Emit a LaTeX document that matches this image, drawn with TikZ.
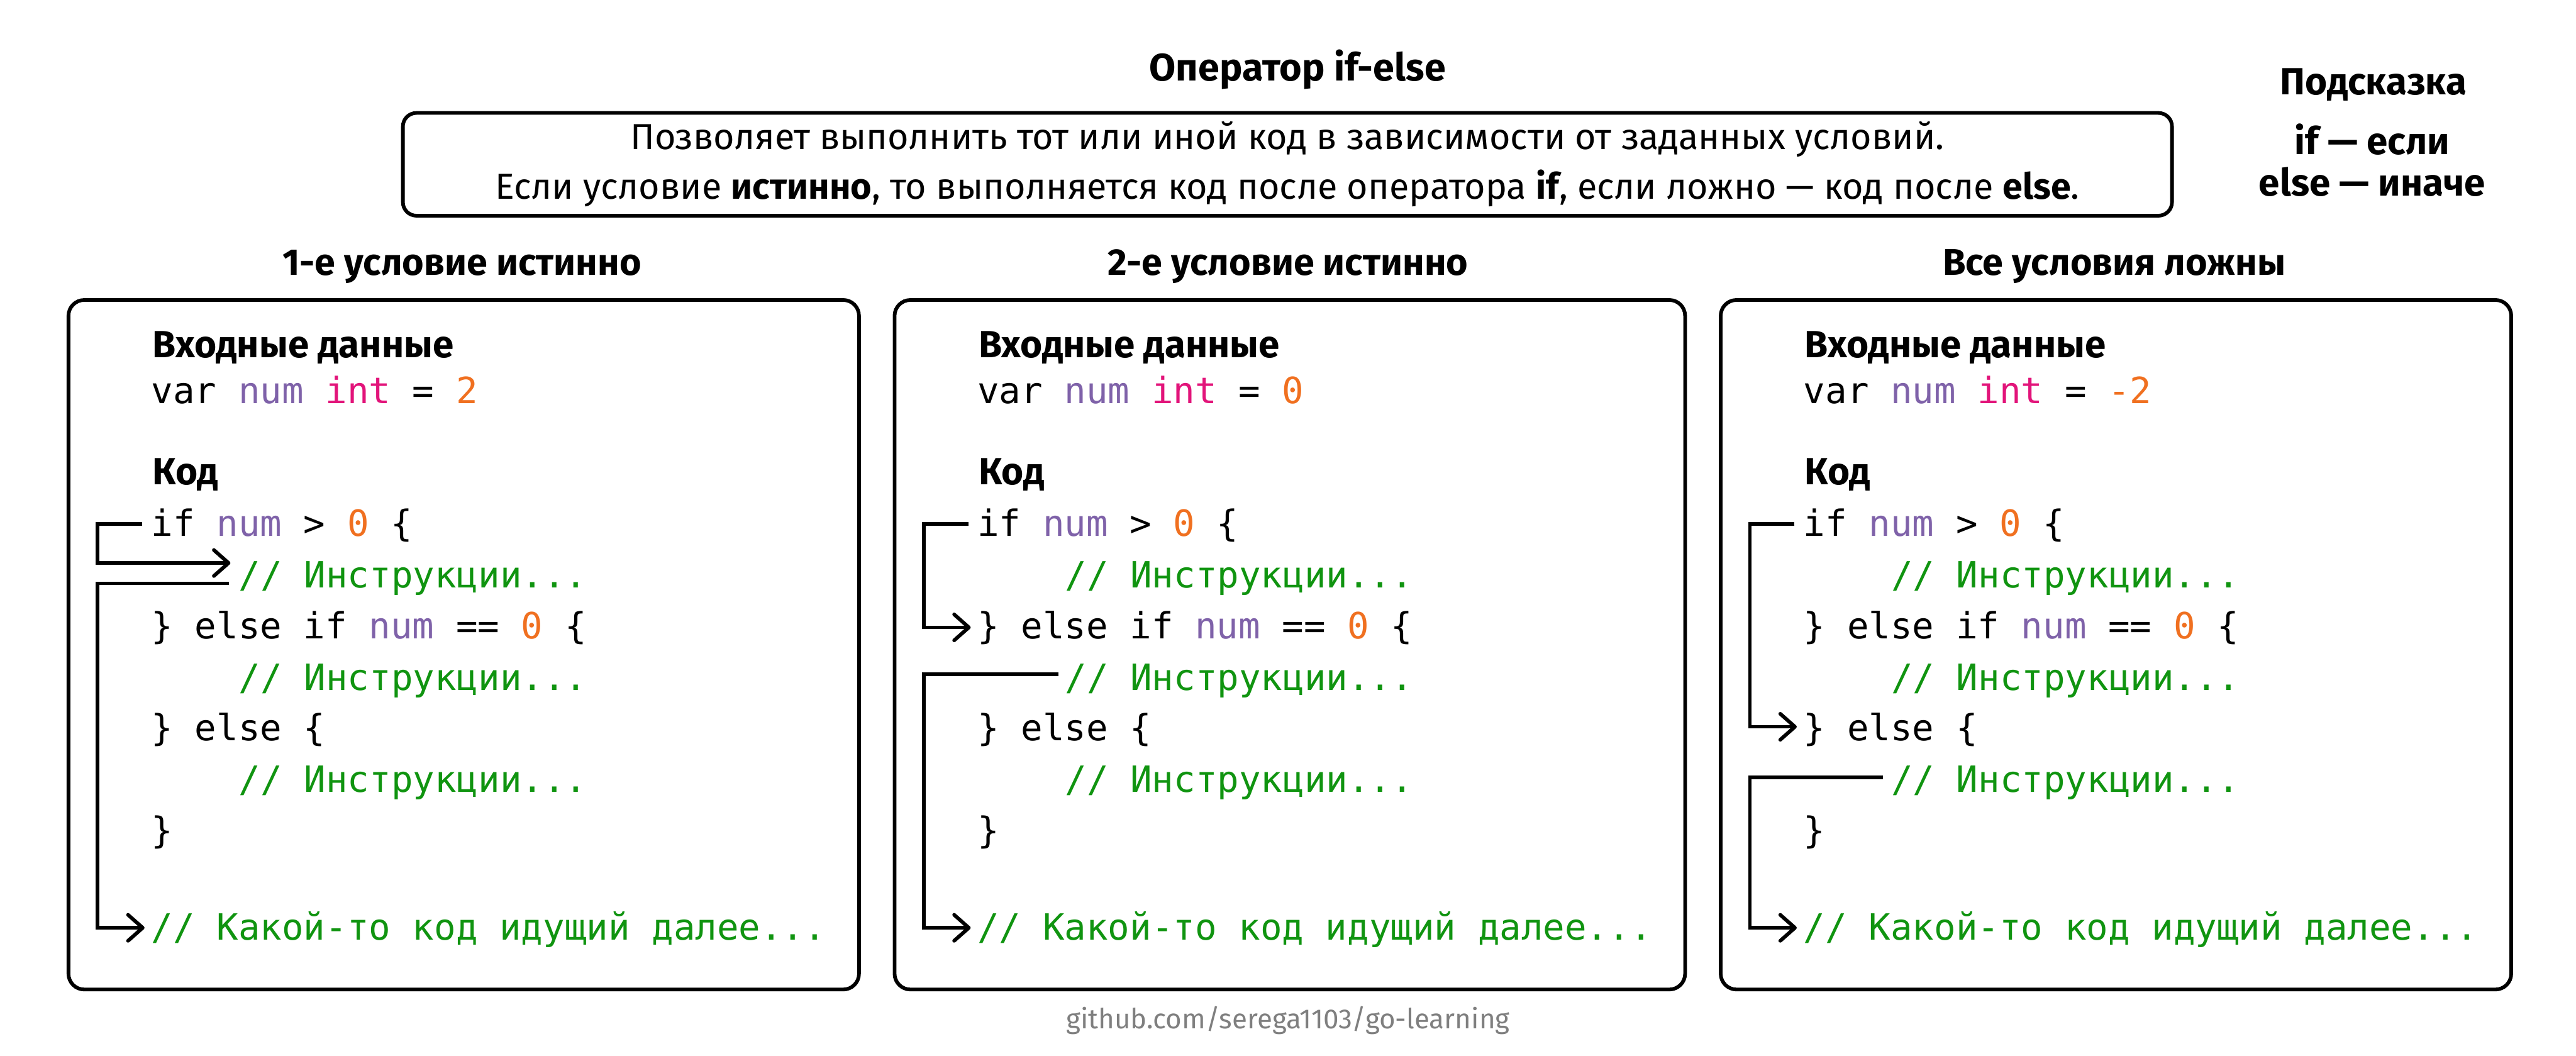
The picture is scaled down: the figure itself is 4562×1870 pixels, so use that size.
\documentclass[tikz,border=0pt]{standalone}
\usepackage{fontspec}
\setmainfont{Fira Sans}
\newfontfamily\codefont{DejaVu Sans Mono}
\usetikzlibrary{arrows.meta}
\definecolor{cpurple}{HTML}{7F62A9}
\definecolor{cmagenta}{HTML}{E2147A}
\definecolor{corange}{HTML}{F07020}
\definecolor{cgreen}{HTML}{109410}
\definecolor{cgray}{HTML}{7F7F7F}
\newcommand{\cnum}{\textcolor{cpurple}{num}}
\newcommand{\czero}{\textcolor{corange}{0}}
\newcommand{\ccom}[1]{\textcolor{cgreen}{#1}}
\begin{document}
\begin{tikzpicture}[x=1pt,y=-1pt,
  panelbox/.style={draw, line width=6.5pt, rounded corners=28pt, minimum width=1400pt, minimum height=1221pt, anchor=north west, inner sep=0pt},
  descbox/.style={draw, line width=6.5pt, rounded corners=24pt, minimum width=3133pt, minimum height=182pt, inner sep=0pt},
  code/.style={font=\codefont\fontsize{64}{77}\selectfont, inner sep=0pt, anchor=base west},
  bhead/.style={font=\bfseries\fontsize{66}{78}\selectfont, inner sep=0pt},
  hinthead/.style={font=\bfseries\fontsize{67}{78}\selectfont, inner sep=0pt, anchor=base},
  desc/.style={font=\fontsize{64}{76}\selectfont, inner sep=0pt, anchor=base},
  flow/.style={line width=6.5pt, -{Straight Barb[length=26pt,width=46pt,round]}}
]
\useasboundingbox (0,0) rectangle (4562,1870);

% title and description
\node[bhead, font=\bfseries\fontsize{68}{80}\selectfont, anchor=base] (title) at (2298,143) {Оператор if-else};
\node[descbox] (descr) at (2280,291) {};
\node[desc] (d1) at (2280,264) {Позволяет выполнить тот или иной код в зависимости от заданных условий.};
\node[desc] (d2) at (2280,353) {Если условие \textbf{истинно}, то выполняется код после оператора \textbf{if}, если ложно — код после \textbf{else}.};

% hint
\node[hinthead] (hint) at (4203,168) {Подсказка};
\node[hinthead] (hint1) at (4201,273) {if — если};
\node[hinthead] (hint2) at (4201,347) {else — иначе};

% panel headers
\node[bhead, anchor=base] (h1) at (818,487) {1-е условие истинно};
\node[bhead, anchor=base] (h2) at (2281,487) {2-е условие истинно};
\node[bhead, anchor=base] (h3) at (3744,487) {Все условия ложны};

% panels
\node[panelbox] (p1) at (118,528) {};
\node[panelbox] (p2) at (1581,528) {};
\node[panelbox] (p3) at (3044,528) {};

% ---------- panel contents ----------
\foreach \L/\P/\V in {118/1/2, 1581/2/0, 3044/3/-2}{
  \node[bhead, font=\bfseries\fontsize{67}{78}\selectfont, anchor=base west] (p\P in) at (\L+152,633) {Входные данные};
  \node[code] (p\P var) at (\L+150,715) {var \cnum\ \textcolor{cmagenta}{int} = \textcolor{corange}{\V}};
  \node[bhead, font=\bfseries\fontsize{67}{78}\selectfont, anchor=base west] (p\P kod) at (\L+152,858) {Код};
  \node[code] (p\P l0) at (\L+150,950) {if \cnum\ > \czero\ \{};
  \node[code] (p\P l1) at (\L+305,1041) {\ccom{// Инструкции...}};
  \node[code] (p\P l2) at (\L+150,1131) {\} else if \cnum\ == \czero\ \{};
  \node[code] (p\P l3) at (\L+305,1222) {\ccom{// Инструкции...}};
  \node[code] (p\P l4) at (\L+150,1312) {\} else \{};
  \node[code] (p\P l5) at (\L+305,1403) {\ccom{// Инструкции...}};
  \node[code] (p\P l6) at (\L+150,1493) {\}};
  \node[code] (p\P end) at (\L+150,1665) {\ccom{// Какой-то код идущий далее...}};
  \coordinate (p\P v) at (\L+55,0);
}

% panel 1 arrows
\coordinate (a1s) at ([xshift=-16pt,yshift=22pt]p1l0.base west);
\coordinate (a1e) at ([xshift=-15pt,yshift=44pt]p1l1.base west);
\draw[flow] (a1s) -- (a1s -| p1v) |- (a1e);
\coordinate (a2s) at ([xshift=-18pt,yshift=8pt]p1l1.base west);
\coordinate (a2e) at ([xshift=-12pt,yshift=22pt]p1end.base west);
\draw[flow] (a2s) -- (a2s -| p1v) |- (a2e);

% panel 2 arrows
\coordinate (b1s) at ([xshift=-16pt,yshift=22pt]p2l0.base west);
\coordinate (b1e) at ([xshift=-12pt,yshift=20pt]p2l2.base west);
\draw[flow] (b1s) -- (b1s -| p2v) |- (b1e);
\coordinate (b2s) at ([xshift=-11pt,yshift=28pt]p2l3.base west);
\coordinate (b2e) at ([xshift=-12pt,yshift=22pt]p2end.base west);
\draw[flow] (b2s) -- (b2s -| p2v) |- (b2e);

% panel 3 arrows
\coordinate (c1s) at ([xshift=-16pt,yshift=22pt]p3l0.base west);
\coordinate (c1e) at ([xshift=-12pt,yshift=25pt]p3l4.base west);
\draw[flow] (c1s) -- (c1s -| p3v) |- (c1e);
\coordinate (c2s) at ([xshift=-14pt,yshift=26pt]p3l5.base west);
\coordinate (c2e) at ([xshift=-12pt,yshift=22pt]p3end.base west);
\draw[flow] (c2s) -- (c2s -| p3v) |- (c2e);

% footer
\node[font=\fontsize{49}{58}\selectfont, text=cgray, inner sep=0pt, anchor=base] (foot) at (2281,1822) {github.com/serega1103/go-learning};
\end{tikzpicture}
\end{document}
